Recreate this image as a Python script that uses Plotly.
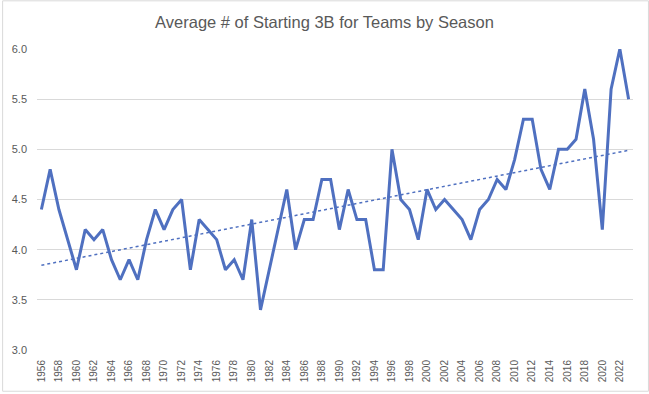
import numpy as np
import plotly.graph_objects as go

years = list(range(1956, 2024))
values = [4.4, 4.8, 4.4, 4.1, 3.8, 4.2, 4.1, 4.2, 3.9, 3.7,
          3.9, 3.7, 4.1, 4.4, 4.2, 4.4, 4.5, 3.8, 4.3, 4.2,
          4.1, 3.8, 3.9, 3.7, 4.3, 3.4, 3.8, 4.2, 4.6, 4.0,
          4.3, 4.3, 4.7, 4.7, 4.2, 4.6, 4.3, 4.3, 3.8, 3.8,
          5.0, 4.5, 4.4, 4.1, 4.6, 4.4, 4.5, 4.4, 4.3, 4.1,
          4.4, 4.5, 4.7, 4.6, 4.9, 5.3, 5.3, 4.8, 4.6, 5.0,
          5.0, 5.1, 5.6, 5.1, 4.2, 5.6, 6.0, 5.5]
title = "Average # of Starting 3B for Teams by Season"
x_ticks = list(range(1956, 2024, 2))
y_ticks = [3.0, 3.5, 4.0, 4.5, 5.0, 5.5, 6.0]

slope, intercept = np.polyfit(years, values, 1)
trend = [slope * y + intercept for y in years]

color = "#4F70C0"
grey = "#595959"

fig = go.Figure()
fig.add_trace(go.Scatter(x=years, y=values, mode="lines",
                         line=dict(color=color, width=3), showlegend=False))
fig.add_trace(go.Scatter(x=years, y=trend, mode="lines",
                         line=dict(color=color, width=1.5, dash="dot"), showlegend=False))

W, H = 649, 394
ml, mr, mt, mb = 35, 16, 49, 42
pw, ph = W - ml - mr, H - mt - mb

fig.update_layout(
    width=W, height=H,
    margin=dict(l=ml, r=mr, t=mt, b=mb),
    paper_bgcolor="white", plot_bgcolor="white",
    font=dict(family="Liberation Sans", color=grey, size=12),
    title=dict(text=title, x=0.5, xanchor="center", y=1 - 22 / H, yanchor="middle",
               font=dict(size=16.5, color=grey)),
    xaxis=dict(range=[1955.5, 2023.5], tickvals=x_ticks, ticktext=[str(t) for t in x_ticks],
               tickangle=-90, showgrid=False, zeroline=False, showline=False,
               ticks="", ticklabelstandoff=7, tickfont=dict(size=10, color=grey)),
    yaxis=dict(range=[3.0, 6.0], tickvals=y_ticks, ticktext=[f"{v:.1f}" for v in y_ticks],
               showgrid=True, gridcolor="#d9d9d9", gridwidth=1, zeroline=False,
               ticks="", ticklabelstandoff=9, tickfont=dict(size=11, color=grey)),
    shapes=[dict(type="rect", xref="paper", yref="paper",
                 x0=(0.5 - ml) / pw, x1=(W - 0.5 - ml) / pw,
                 y0=(mt + ph - (H - 0.5)) / ph, y1=(mt + ph - 0.5) / ph,
                 line=dict(color="#d9d9d9", width=1), layer="below")],
)
fig.write_html("out.html", config={"displayModeBar": False},
               post_script="document.body.style.margin='0';document.body.style.overflow='hidden';")
